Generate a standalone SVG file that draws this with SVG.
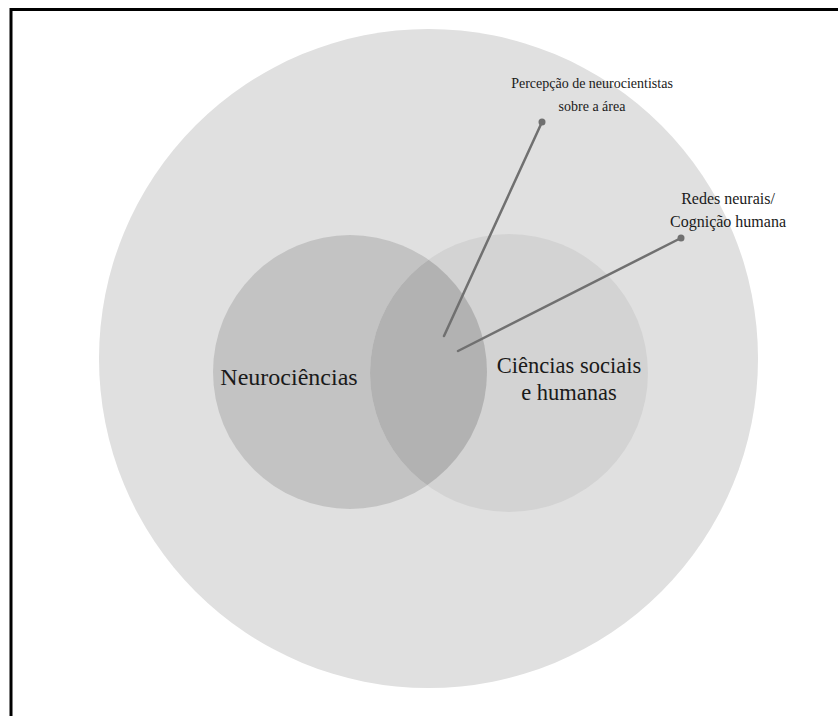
<svg xmlns="http://www.w3.org/2000/svg" width="838" height="716" viewBox="0 0 838 716">
  <style>
    text { font-family: "Liberation Serif", "DejaVu Serif", "Times New Roman", serif; fill: #1a1a1a; text-anchor: middle; }
    .big { font-size: 22.5px; }
    .small { font-size: 14px; }
    .mid { font-size: 16px; }
    .lead { stroke: #707070; stroke-width: 2.5; fill: none; stroke-linecap: round; }
    .dot { fill: #707070; }
  </style>
  <defs>
    <clipPath id="clipLeft">
      <circle cx="350" cy="372" r="137"/>
    </clipPath>
  </defs>
  <rect width="838" height="716" fill="#ffffff"/>
  <!-- outer frame, running off the right and bottom edges -->
  <path d="M11 740 V9.5 H850" fill="none" stroke="#000" stroke-width="3"/>

  <g id="context">
    <circle cx="428.5" cy="358.5" r="329.5" fill="#e0e0e0"/>
  </g>
  <g id="neurociencias">
    <circle cx="350" cy="372" r="137" fill="#c3c3c3"/>
    <text class="big" x="289" y="385" style="font-size:24px">Neurociências</text>
  </g>
  <g id="ciencias-sociais">
    <circle cx="509" cy="373" r="139" fill="#d3d3d3"/>
    <text class="big" x="569" y="373">Ciências sociais</text>
    <text class="big" x="569" y="400">e humanas</text>
  </g>
  <g id="intersecao">
    <circle cx="509" cy="373" r="139" fill="#b2b2b2" clip-path="url(#clipLeft)"/>
  </g>

  <g id="connectors">
    <line class="lead" x1="444" y1="336" x2="542" y2="122"/>
    <circle class="dot" cx="542" cy="122" r="3.5"/>
    <line class="lead" x1="458" y1="351" x2="681" y2="238"/>
    <circle class="dot" cx="681" cy="238" r="3.5"/>
  </g>

  <g id="percepcao">
    <text class="small" x="592" y="88">Percepção de neurocientistas</text>
    <text class="small" x="592" y="111">sobre a área</text>
  </g>
  <g id="redes-neurais">
    <text class="mid" x="728" y="204">Redes neurais/</text>
    <text class="mid" x="728" y="227">Cognição humana</text>
  </g>
</svg>
